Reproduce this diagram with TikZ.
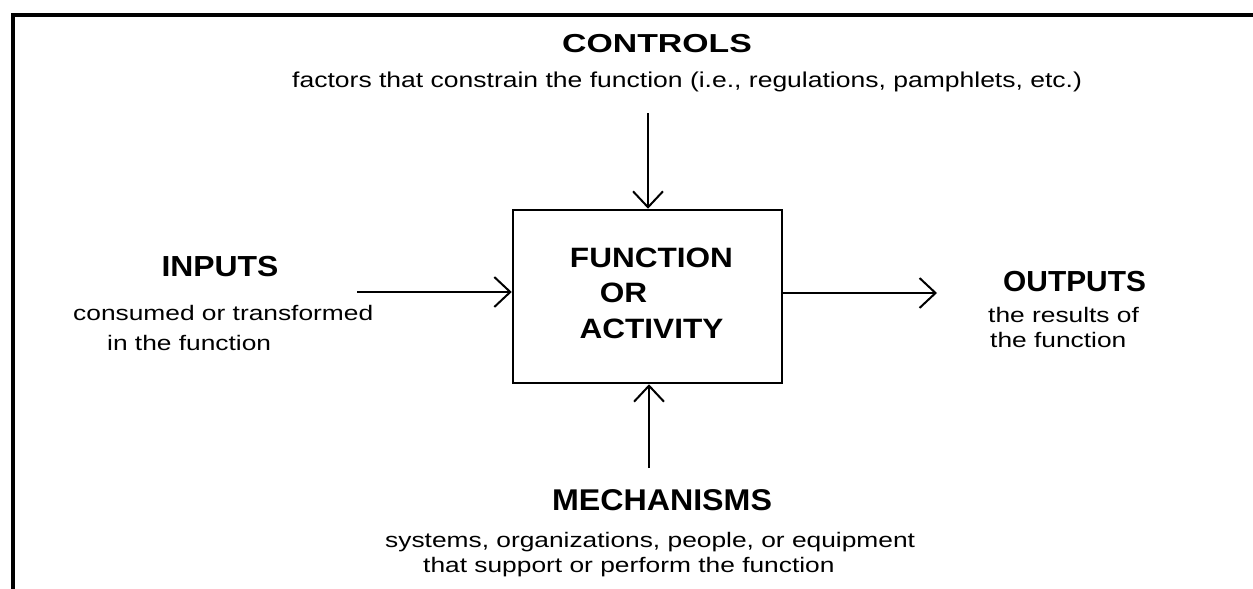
\documentclass[tikz,border=0pt]{standalone}
\usepackage{fontspec}
\usepackage{graphicx}
\setmainfont{Liberation Sans}
\usetikzlibrary{arrows.meta}

% horizontally widened text
\newcommand{\widetext}[2]{\scalebox{#1}[1]{#2}}

\tikzset{
  framepen/.style={line width=4pt, line cap=rect},
  funcbox/.style={draw, line width=2.5pt, minimum width=269pt, minimum height=173pt, inner sep=0pt},
  flowarrow/.style={line width=2pt, -{Straight Barb[length=16pt, width=30pt, line width=2pt]}},
  heading/.style={inner sep=0pt, font=\fontsize{29}{33}\selectfont\bfseries},
  note/.style={inner sep=0pt, font=\fontsize{21}{25}\selectfont},
}

\begin{document}
\begin{tikzpicture}[x=1pt, y=-1pt]
  \useasboundingbox (0,0) rectangle (1253,589);

  % outer frame (top and left rules)
  \draw[framepen] (13,589) -- (13,15) -- (1253,15);

  % central function box
  \node[funcbox] (box) at (647.5,296.5) {};
  \node[inner sep=0pt, font=\fontsize{28}{35.5}\selectfont\bfseries, anchor=base] (fntext) at (651.5,267)
    {\widetext{1.127}{\begin{tabular}[t]{@{}c@{}}FUNCTION\\OR\kern49.7pt\\ACTIVITY\end{tabular}}};

  % controls
  \node[heading, font=\fontsize{26}{30}\selectfont\bfseries, anchor=base] (controls) at (657,52)
    {\widetext{1.30}{CONTROLS}};
  \node[note, font=\fontsize{21.5}{25}\selectfont, anchor=base west] (controlsnote) at (292,87)
    {\widetext{1.233}{factors that constrain the function (i.e., regulations, pamphlets, etc.)}};

  % inputs
  \node[heading, anchor=base] (inputs) at (220,276) {\widetext{1.10}{INPUTS}};
  \node[note, font=\fontsize{21}{30}\selectfont, anchor=base west] (inputsnote) at (73,320)
    {\widetext{1.254}{\begin{tabular}[t]{@{}l@{}}consumed or transformed\\\hspace*{27.1pt}in the function\end{tabular}}};

  % outputs
  \node[heading, anchor=base west] (outputs) at (1003,291) {\widetext{1.03}{OUTPUTS}};
  \node[note, anchor=base west] (outputsnote) at (988,322)
    {\widetext{1.254}{\begin{tabular}[t]{@{}l@{}}the results of\\\hspace*{1.6pt}the function\end{tabular}}};

  % mechanisms
  \node[heading, font=\fontsize{30}{34}\selectfont\bfseries, anchor=base] (mechanisms) at (662,510)
    {\widetext{1.073}{MECHANISMS}};
  \node[note, anchor=base west] (mechanismsnote) at (385,547)
    {\widetext{1.254}{\begin{tabular}[t]{@{}l@{}}systems, organizations, people, or equipment\\\hspace*{30.3pt}that support or perform the function\end{tabular}}};

  % arrow ends
  \coordinate (inend) at (357,292);
  \coordinate (outend) at (937,293);
  \coordinate (ctlend) at (648,113);
  \coordinate (mechend) at (649,468);

  \draw[flowarrow] (inend) -- (inend -| box.west);
  \draw[flowarrow] (box.east |- outend) -- (outend);
  \draw[flowarrow] (ctlend) -- (ctlend |- box.north);
  \draw[flowarrow] (mechend) -- (mechend |- box.south);
\end{tikzpicture}
\end{document}
